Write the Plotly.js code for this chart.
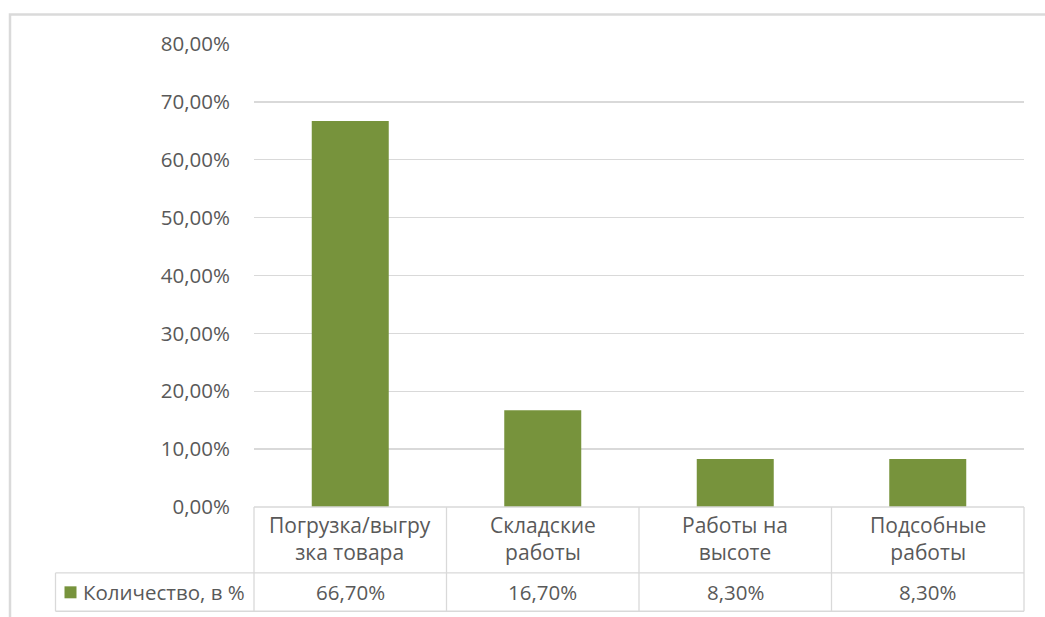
<!DOCTYPE html>
<html>
<head>
<meta charset="utf-8">
<script src="https://cdn.plot.ly/plotly-3.0.1.min.js"></script>
<style>
  html, body { margin: 0; padding: 0; background: #ffffff; }
  #chart { width: 1045px; height: 617px; }
</style>
</head>
<body>
<div id="chart"></div>
<script>
// ---- Data ----
const categories = ['Погрузка/выгрузка товара', 'Складские работы', 'Работы на высоте', 'Подсобные работы'];
const categoryLabels = ['Погрузка/выгру<br>зка товара', 'Складские<br>работы', 'Работы на<br>высоте', 'Подсобные<br>работы'];
const values = [66.7, 16.7, 8.3, 8.3];
const seriesName = 'Количество, в %';
const yTickValues = [0, 10, 20, 30, 40, 50, 60, 70, 80];

// ---- Style ----
const W = 1045, H = 617;
const plotL = 254, plotR = 1024, plotT = 43.5, plotB = 507.5;
const barColor = '#77933C';
const textColor = '#595959';
const lineColor = '#D9D9D9';
const fontFamily = 'Open Sans, Liberation Sans, sans-serif';

const px2x = p => (p - plotL) / (plotR - plotL);
const px2y = p => (plotB - p) / (plotB - plotT);

function fmtPct(v) { return v.toFixed(2).replace('.', ',') + '%'; }

const shapes = [];
const annotations = [];

// outer chart frame
shapes.push({type: 'rect', xref: 'paper', yref: 'paper',
  x0: px2x(10), x1: px2x(1060), y0: px2y(14), y1: px2y(640),
  line: {color: '#DADADA', width: 2.5}, fillcolor: 'rgba(0,0,0,0)', layer: 'below'});

// data table grid
const rowTop = 507.5, rowMid = 573.5, rowBot = 612;
const legendLeft = 55.5;
const colW = (plotR - plotL) / categories.length;
function hline(y, x0, x1) {
  shapes.push({type: 'line', xref: 'paper', yref: 'paper', x0: px2x(x0), x1: px2x(x1), y0: px2y(y), y1: px2y(y), line: {color: lineColor, width: 1.3}});
}
function vline(x, y0, y1) {
  shapes.push({type: 'line', xref: 'paper', yref: 'paper', x0: px2x(x), x1: px2x(x), y0: px2y(y0), y1: px2y(y1), line: {color: lineColor, width: 1.3}});
}
hline(rowTop, plotL, plotR);
hline(rowMid, legendLeft, plotR);
hline(rowBot, legendLeft, plotR);
vline(legendLeft, rowMid, rowBot);
for (let i = 0; i <= categories.length; i++) {
  vline(plotL + i * colW, rowTop, rowBot);
}

// legend key in table
shapes.push({type: 'rect', xref: 'paper', yref: 'paper',
  x0: px2x(64.5), x1: px2x(76.5), y0: px2y(587), y1: px2y(599),
  line: {width: 0}, fillcolor: barColor});
annotations.push({xref: 'paper', yref: 'paper', x: px2x(81), y: px2y(592.5),
  xanchor: 'left', yanchor: 'middle', showarrow: false, text: seriesName,
  font: {family: fontFamily, size: 20.5, color: textColor}});

// category labels and values
categories.forEach((c, i) => {
  annotations.push({xref: 'x', yref: 'paper', x: c, y: px2y(539.5), xanchor: 'center', yanchor: 'middle',
    showarrow: false, text: categoryLabels[i], align: 'center',
    font: {family: fontFamily, size: 21, color: textColor}});
  annotations.push({xref: 'x', yref: 'paper', x: c, y: px2y(592.5), xanchor: 'center', yanchor: 'middle',
    showarrow: false, text: fmtPct(values[i]),
    font: {family: fontFamily, size: 20.5, color: textColor}});
});

const trace = {
  type: 'bar', x: categories, y: values, name: seriesName,
  marker: {color: barColor, line: {width: 0}},
  hoverinfo: 'skip'
};

const layout = {
  width: W, height: H,
  margin: {l: plotL, r: W - plotR, t: plotT, b: H - plotB, pad: 0},
  paper_bgcolor: '#ffffff', plot_bgcolor: '#ffffff',
  separators: ', ',
  showlegend: false,
  bargap: 0.6,
  font: {family: fontFamily, color: textColor},
  xaxis: {type: 'category', showticklabels: false, showgrid: false, zeroline: false, showline: false, ticks: '', fixedrange: true},
  yaxis: {range: [0, 80], tickvals: yTickValues, ticktext: yTickValues.map(fmtPct),
    showgrid: true, gridcolor: lineColor, gridwidth: 1.3, zeroline: false, showline: false,
    ticks: 'outside', ticklen: 19, tickcolor: 'rgba(0,0,0,0)',
    tickfont: {family: fontFamily, size: 20.5, color: textColor}, fixedrange: true},
  shapes: shapes,
  annotations: annotations
};

Plotly.newPlot('chart', [trace], layout, {displayModeBar: false, staticPlot: true});
</script>
</body>
</html>
